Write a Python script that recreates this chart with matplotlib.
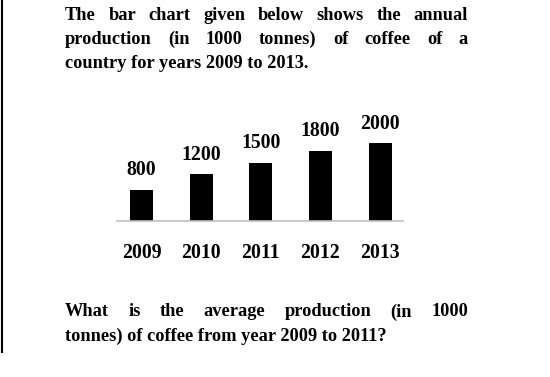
import matplotlib
matplotlib.use("Agg")
import matplotlib.pyplot as plt

# data
years = ["2009", "2010", "2011", "2012", "2013"]
production = [800, 1200, 1500, 1800, 2000]

intro_lines = [
    "The bar chart given below shows the annual",
    "production (in 1000 tonnes) of coffee of a",
    "country for years 2009 to 2013.",
]
question_lines = [
    "What is the average production (in 1000",
    "tonnes) of coffee from year 2009 to 2011?",
]

plt.rcParams['font.family'] = ['Liberation Serif', 'DejaVu Serif']
plt.rcParams['font.weight'] = 'bold'

W, H = 550, 377
fig = plt.figure(figsize=(W / 100, H / 100), dpi=100)
fig.patch.set_facecolor('white')

# overlay axes in pixel coordinates for the paragraph text
page = fig.add_axes([0, 0, 1, 1])
page.set_xlim(0, W)
page.set_ylim(H, 0)
page.axis('off')

renderer = fig.canvas.get_renderer()
TEXT_SIZE = 13.2
LABEL_SIZE = 14.2
LEFT, RIGHT = 65, 468


def draw_paragraph(lines, first_baseline, spacing=24):
    for i, line in enumerate(lines):
        y = first_baseline + i * spacing
        words = line.split()
        if i == len(lines) - 1 or len(words) < 2:
            page.text(LEFT, y, line, fontsize=TEXT_SIZE, fontweight='bold',
                      ha='left', va='baseline')
            continue
        # justified line: measure words, spread the leftover space evenly
        texts = [page.text(0, y, w, fontsize=TEXT_SIZE, fontweight='bold',
                           ha='left', va='baseline') for w in words]
        widths = [t.get_window_extent(renderer).width for t in texts]
        gap = (RIGHT - LEFT - sum(widths)) / (len(words) - 1)
        x = LEFT
        for t, w in zip(texts, widths):
            t.set_x(x)
            x += w + gap


draw_paragraph(intro_lines, 20)
draw_paragraph(question_lines, 316.5)

# left border line
page.plot([2, 2], [0, 352.5], color='black', lw=1.5, solid_capstyle='butt')

# bar chart
ax = fig.add_axes([117.3 / W, (H - 220.7) / H, 285.7 / W, 96.75 / H])
pos = list(range(len(years)))
ax.bar(pos, production, width=0.386, color='black')
ax.set_xlim(-0.409, 4.386)
ax.set_ylim(0, 2500)
for p, v in zip(pos, production):
    ax.annotate(str(v), (p, v), xytext=(0, 10.5), textcoords='offset points',
                ha='center', va='baseline', fontsize=LABEL_SIZE, fontweight='bold')

ax.set_xticks(pos)
ax.set_xticklabels(years, fontsize=LABEL_SIZE, fontweight='bold')
ax.tick_params(axis='x', length=0, pad=16)
ax.set_yticks([])
for side in ['top', 'right', 'left']:
    ax.spines[side].set_visible(False)
ax.spines['bottom'].set_color('#bfbfbf')
ax.spines['bottom'].set_linewidth(1.2)
ax.patch.set_alpha(0)

fig.savefig('out.png', dpi=100)
